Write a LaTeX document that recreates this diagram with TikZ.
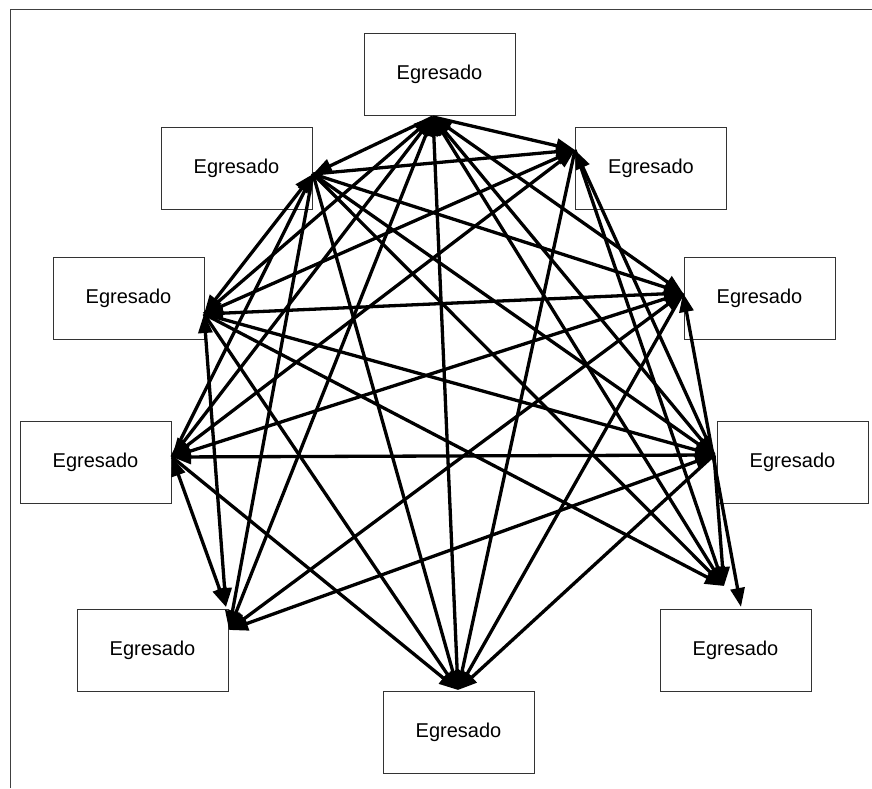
\documentclass[tikz,border=0pt]{standalone}
\usepackage{fontspec}
\setmainfont{Liberation Sans}
\usepackage{tikz}
\usetikzlibrary{arrows.meta}
\tikzset{
	egresado/.style={draw=black!80, line width=0.9pt, minimum width=151pt, minimum height=82pt, inner sep=0pt, font=\fontsize{20pt}{24pt}\selectfont},
	flecha/.style={line width=3.3pt},
	>={Triangle[length=19pt,width=14pt]}
}

\begin{document}
\begin{tikzpicture}[x=1pt,y=1pt]
	\useasboundingbox (0,0) rectangle (872,788);
	\draw[black!75, line width=1pt] (10.5,0) -- (10.5,778.5) -- (872,778.5);

	\node[egresado] (A) at (439.5,714) {Egresado};
	\node[egresado] (B) at (651,620) {Egresado};
	\node[egresado] (C) at (759.5,490) {Egresado};
	\node[egresado] (D) at (792.5,326) {Egresado};
	\node[egresado] (E) at (735.5,138) {Egresado};
	\node[egresado] (F) at (458.5,56) {Egresado};
	\node[egresado] (G) at (152.5,138) {Egresado};
	\node[egresado] (H) at (95.5,326) {Egresado};
	\node[egresado] (I) at (128.5,490) {Egresado};
	\node[egresado] (J) at (236.5,620) {Egresado};

	\coordinate (a) at (433,671);
	\coordinate (b) at (575,638);
	\coordinate (c) at (683,495);
	\coordinate (d) at (714,333);
	\coordinate (e) at (724,202);
	\coordinate (e2) at (741,181);
	\coordinate (f) at (458,98);
	\coordinate (g) at (229,158);
	\coordinate (g2) at (226,181);
	\coordinate (h) at (172,331);
	\coordinate (i) at (204,474);
	\coordinate (j) at (313,614);

	\draw[flecha,->] (a) -- (j);
	\draw[flecha,->] (a) -- (b);
	\draw[flecha,->] (i) -- (a);
	\draw[flecha,<->] (a) -- (c);
	\draw[flecha,<->] (a) -- (h);
	\draw[flecha,<->] (a) -- (d);
	\draw[flecha,<->] (a) -- (g);
	\draw[flecha,<->] (a) -- (f);
	\draw[flecha,<->] (a) -- (e);

	\draw[flecha,->] (j) -- (b);
	\draw[flecha,<->] (j) -- (i);
	\draw[flecha,->] (j) -- (c);
	\draw[flecha,->] (h) -- (j);
	\draw[flecha,->] (j) -- (d);
	\draw[flecha,->] (j) -- (g);
	\draw[flecha,->] (j) -- (f);
	\draw[flecha,->] (j) -- (e);

	\draw[flecha,<->] (b) -- (i);
	\draw[flecha,<->] (b) -- (h);
	\draw[flecha,->] (d) -- (b);
	\draw[flecha,->] (b) -- (f);
	\draw[flecha,->] (b) -- (e);

	\draw[flecha,<->] (i) -- (c);
	\draw[flecha,->] (i) -- (d);
	\draw[flecha,<->] (i) -- (g2);
	\draw[flecha,->] (i) -- (f);
	\draw[flecha,->] (i) -- (e);

	\draw[flecha,<->] (c) -- (h);
	\draw[flecha,<->] (c) -- (g);
	\draw[flecha,->] (c) -- (f);
	\draw[flecha,<->] (c) -- (e2);

	\draw[flecha,<->] (h) -- (d);
	\draw[flecha,<->] (h) -- (g2);
	\draw[flecha,->] (h) -- (f);

	\draw[flecha,<->] (d) -- (g);
	\draw[flecha,->] (d) -- (f);
	\draw[flecha,->] (d) -- (e);

\end{tikzpicture}
\end{document}
